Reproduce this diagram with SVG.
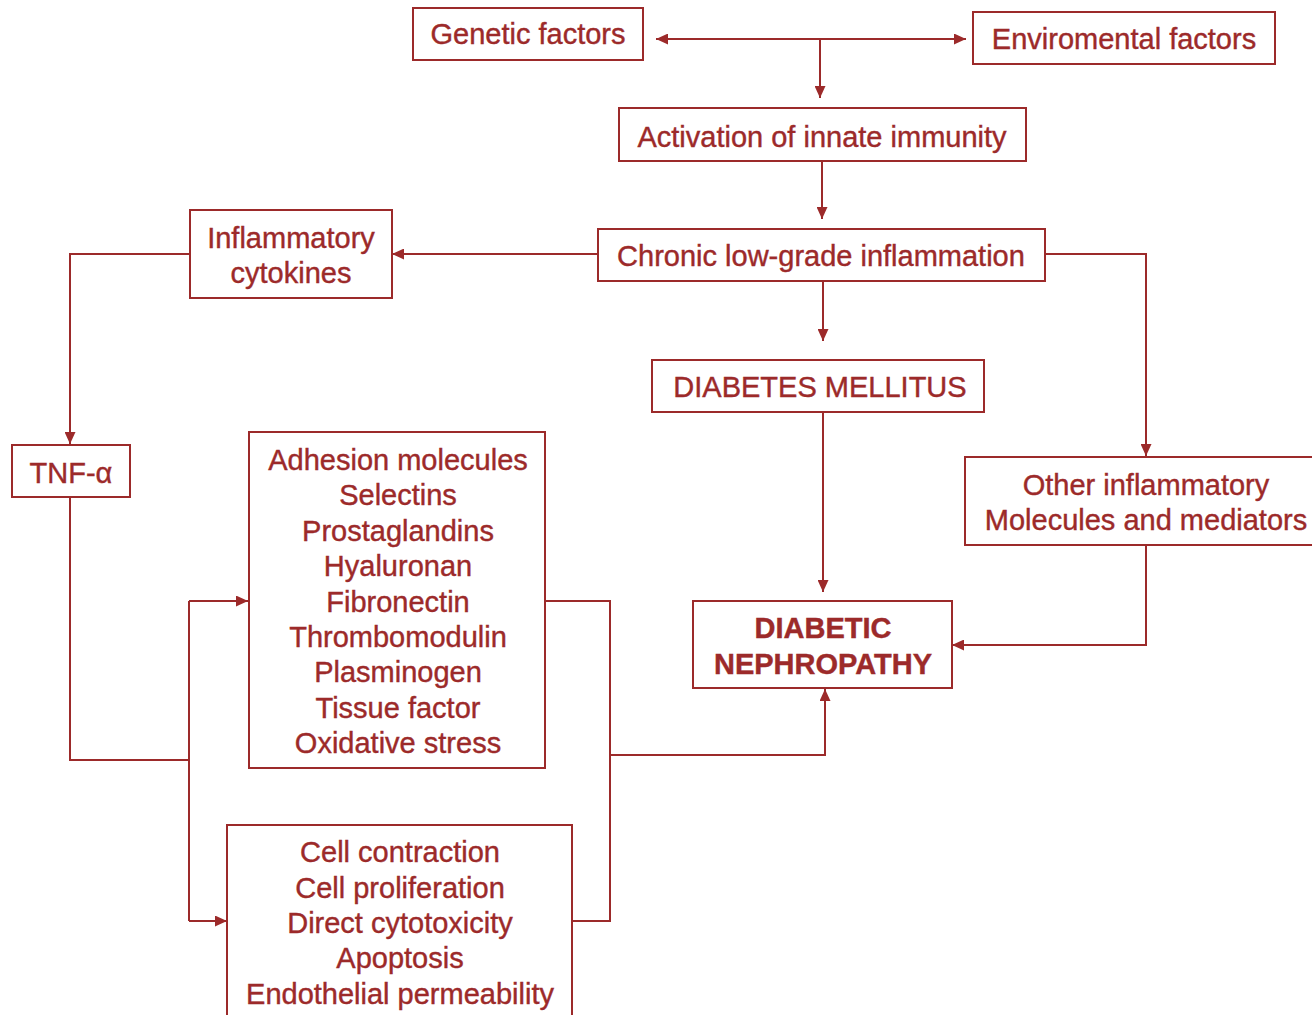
<svg xmlns="http://www.w3.org/2000/svg" width="1312" height="1015" viewBox="0 0 1312 1015">
<style>
.box{fill:#fff;stroke:#9c2a2a;stroke-width:2}
.t{font-family:"Liberation Sans",Arial,sans-serif;font-size:29px;fill:#9c2a2a;stroke:#9c2a2a;stroke-width:0.4;text-anchor:middle}
.b{font-weight:bold}
.c{fill:none;stroke:#9c2a2a;stroke-width:2}
</style>
<defs>
<marker id="ah" markerUnits="userSpaceOnUse" markerWidth="12" markerHeight="11" refX="12" refY="5.5" orient="auto-start-reverse">
<path d="M0,0 L12,5.5 L0,11 z" fill="#9c2a2a"/>
</marker>
</defs>
<rect width="1312" height="1015" fill="#fff"/>
<g id="connectors">
<path class="c" d="M656,39 H966" marker-start="url(#ah)" marker-end="url(#ah)"/>
<path class="c" d="M820,39 V98" marker-end="url(#ah)"/>
<path class="c" d="M822,161 V219" marker-end="url(#ah)"/>
<path class="c" d="M598,254 H392" marker-end="url(#ah)"/>
<path class="c" d="M190,254 H70 V444" marker-end="url(#ah)"/>
<path class="c" d="M70,497 V760 H189"/>
<path class="c" d="M189,601 V921"/>
<path class="c" d="M189,601 H248" marker-end="url(#ah)"/>
<path class="c" d="M189,921 H227" marker-end="url(#ah)"/>
<path class="c" d="M545,601 H610 V921 H572"/>
<path class="c" d="M610,755 H825 V689" marker-end="url(#ah)"/>
<path class="c" d="M823,281 V341" marker-end="url(#ah)"/>
<path class="c" d="M823,412 V592" marker-end="url(#ah)"/>
<path class="c" d="M1045,254 H1146 V456" marker-end="url(#ah)"/>
<path class="c" d="M1146,545 V645 H952" marker-end="url(#ah)"/>
</g>
<g id="genetic"><rect class="box" x="413" y="8" width="230" height="52"/><text class="t" x="528" y="44">Genetic factors</text></g>
<g id="enviromental"><rect class="box" x="973" y="12" width="302" height="52"/><text class="t" x="1124" y="49">Enviromental factors</text></g>
<g id="activation"><rect class="box" x="619" y="108" width="407" height="53"/><text class="t" x="822" y="147">Activation of innate immunity</text></g>
<g id="chronic"><rect class="box" x="598" y="229" width="447" height="52"/><text class="t" x="821" y="266">Chronic low-grade inflammation</text></g>
<g id="cytokines"><rect class="box" x="190" y="210" width="202" height="88"/><text class="t" x="291" y="248">Inflammatory</text><text class="t" x="291" y="283">cytokines</text></g>
<g id="tnf"><rect class="box" x="12" y="445" width="118" height="52"/><text class="t" x="71" y="483">TNF-α</text></g>
<g id="diabetes"><rect class="box" x="652" y="360" width="332" height="52"/><text class="t" x="820" y="397">DIABETES MELLITUS</text></g>
<g id="other"><rect class="box" x="965" y="457" width="360" height="88"/><text class="t" x="1146" y="495">Other inflammatory</text><text class="t" x="1146" y="530">Molecules and mediators</text></g>
<g id="nephropathy"><rect class="box" x="693" y="601" width="259" height="87"/><text class="t b" x="823" y="638">DIABETIC</text><text class="t b" x="823" y="674">NEPHROPATHY</text></g>
<g id="adhesion"><rect class="box" x="249" y="432" width="296" height="336"/>
<text class="t" x="398" y="470">Adhesion molecules</text>
<text class="t" x="398" y="505">Selectins</text>
<text class="t" x="398" y="541">Prostaglandins</text>
<text class="t" x="398" y="576">Hyaluronan</text>
<text class="t" x="398" y="612">Fibronectin</text>
<text class="t" x="398" y="647">Thrombomodulin</text>
<text class="t" x="398" y="682">Plasminogen</text>
<text class="t" x="398" y="718">Tissue factor</text>
<text class="t" x="398" y="753">Oxidative stress</text>
</g>
<g id="cell"><rect class="box" x="227" y="825" width="345" height="200"/>
<text class="t" x="400" y="862">Cell contraction</text>
<text class="t" x="400" y="898">Cell proliferation</text>
<text class="t" x="400" y="933">Direct cytotoxicity</text>
<text class="t" x="400" y="968">Apoptosis</text>
<text class="t" x="400" y="1004">Endothelial permeability</text>
</g>
</svg>
